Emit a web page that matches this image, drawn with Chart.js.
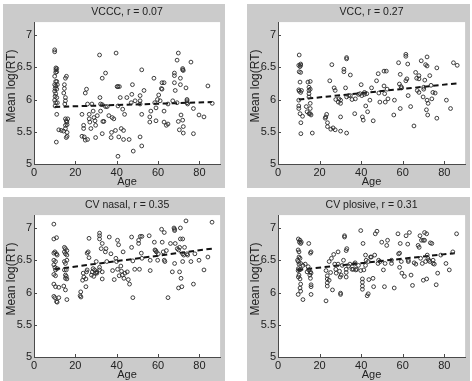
<!DOCTYPE html>
<html><head><meta charset="utf-8">
<script src="https://cdn.jsdelivr.net/npm/chart.js@4.4.1/dist/chart.umd.min.js"></script>
<style>
html,body{margin:0;padding:0;background:#fff;width:472px;height:381px;overflow:hidden;}
.panel{position:absolute;background:#cbcbcb;}
canvas{display:block;}
</style></head><body>
<div class="panel" style="left:3px;top:4px;width:222px;height:184px"><canvas id="c1" width="222" height="184"></canvas></div>
<div class="panel" style="left:247px;top:4px;width:223px;height:184px"><canvas id="c2" width="223" height="184"></canvas></div>
<div class="panel" style="left:3px;top:197px;width:222px;height:184px"><canvas id="c3" width="222" height="184"></canvas></div>
<div class="panel" style="left:247px;top:197px;width:223px;height:184px"><canvas id="c4" width="223" height="184"></canvas></div>
<script>
// ---- data ----
const xTicks = [0, 20, 40, 60, 80];
const yTicks = [5, 5.5, 6, 6.5, 7];
const titles = ["VCCC, r = 0.07", "VCC, r = 0.27", "CV nasal, r = 0.35", "CV plosive, r = 0.31"];
const xLabel = "Age";
const yLabel = "Mean log(RT)";

const vcccPoints = [[10,6.77],[10,6.74],[10.5,6.42],[10.6,6.49],[10.6,6.46],[10,6.36],[10.5,6.28],[10,6.23],[10.5,6.21],[10.2,6.17],[10,6.13],[10.5,6.09],[10.2,6.05],[10,5.99],[10.5,5.95],[10.2,5.90],[11,6.43],[11,6.48],[11,6.28],[11.3,6.23],[11,6.16],[11,6.03],[11.3,5.95],[11,5.77],[10.8,5.34],[12,5.53],[13.2,5.52],[14.3,5.51],[14.4,6.10],[14.7,6.17],[14.7,6.23],[15.2,6.33],[15.7,6.36],[15.2,6.03],[15.2,5.98],[14.9,5.93],[15.2,5.70],[15.6,5.67],[15.9,5.65],[15.2,5.60],[15.2,5.55],[16,5.49],[16,5.43],[15.6,5.41],[16.3,5.70],[16,5.61],[23.2,5.77],[23.2,5.43],[24,5.60],[24,5.55],[24.3,5.42],[24.8,6.10],[25.4,6.16],[24.8,5.37],[25.9,5.38],[25.9,5.93],[26.7,5.77],[26.7,5.70],[27,5.65],[27.5,5.55],[28,5.93],[28.6,5.82],[29,5.72],[29.5,5.67],[29.8,5.41],[29.8,5.60],[30.6,5.75],[31.7,6.69],[31.9,6.03],[32.2,5.93],[32.2,5.82],[33,6.33],[33,5.92],[33.3,5.66],[33,5.47],[33.8,5.66],[34.6,6.41],[35.4,5.89],[34.6,5.89],[36.2,5.75],[37.8,5.72],[37.5,5.49],[37.3,5.41],[38.6,5.70],[39.4,5.52],[39.7,6.72],[40.2,6.20],[40.6,6.20],[40.6,5.90],[40.6,5.12],[41,5.42],[41.3,6.20],[41.7,6.03],[42.2,5.55],[42.9,5.85],[43.3,5.52],[43.8,5.77],[43.3,5.38],[44.9,6.03],[46,5.38],[47,5.95],[47.3,6.08],[47.6,6.23],[48,5.20],[48.9,5.98],[51.3,6.06],[51.3,5.98],[51.3,5.93],[52.1,6.46],[52.1,5.77],[51.3,5.42],[52.1,5.28],[53.2,6.14],[56,5.73],[56,5.65],[56.5,5.82],[58,6.33],[58.4,5.95],[59,5.87],[59,5.67],[59.7,6.00],[60.3,6.07],[61,5.98],[61.6,6.17],[61.9,6.26],[62.9,6.26],[61.9,6.16],[62.9,5.82],[62.9,5.65],[64,5.60],[64.8,5.62],[64.8,5.93],[67.1,5.98],[67.9,6.41],[67.9,6.37],[67.9,6.26],[68.3,6.14],[69.2,6.61],[69.8,6.72],[69.2,5.95],[69.8,5.66],[70.3,5.53],[70.8,6.33],[70.8,6.23],[71.1,5.76],[71.9,6.46],[71.9,6.48],[72.2,6.45],[71.9,5.68],[72.2,5.58],[72.2,5.48],[73.5,6.18],[74,6.00],[74,5.98],[74,5.95],[74.3,5.93],[75.9,6.58],[77.1,5.86],[77.1,5.47],[79.8,5.76],[82.2,5.73],[84.1,6.21],[86.2,5.94]];
const vcccFitX = [10, 86];
const vcccFitY = [5.885, 5.96];

const vccPoints = [[10.2,6.69],[10,6.53],[10.9,6.53],[10.6,6.51],[10.9,6.55],[10.2,6.43],[10.9,6.42],[10.6,6.27],[10,6.15],[10.2,6.13],[10.9,6.11],[11.3,6.14],[10,5.99],[10,5.90],[10,5.86],[10.6,5.78],[11,5.64],[11,5.47],[11.8,5.74],[13.6,5.89],[14,5.81],[14.4,6.27],[14.9,6.19],[14.9,6.14],[14.9,6.09],[14.9,6.04],[15.5,6.28],[15.5,6.16],[15.5,5.94],[15.5,5.86],[15.5,5.78],[15.9,5.76],[14.9,5.78],[16.5,5.48],[22.7,5.71],[23,5.73],[23.4,5.77],[23.8,5.64],[23.8,5.58],[24.9,6.29],[25.4,5.54],[25.9,6.54],[26.5,5.56],[27,6.18],[27.5,6.14],[27.5,5.53],[27.8,6.00],[29,5.96],[29.3,6.01],[30.1,5.99],[30.1,5.94],[30.1,5.73],[30.1,5.51],[31.7,6.47],[31.7,6.43],[32.5,6.18],[33,6.65],[33,6.63],[33,6.04],[33,5.48],[34,6.06],[34.8,6.06],[34.8,6.38],[35.6,6.00],[36.9,5.78],[37.2,6.01],[38.7,6.08],[39.5,6.09],[40,6.23],[40.3,6.06],[40.6,5.73],[41,5.68],[41.6,6.11],[41.6,6.08],[42.2,5.90],[42.7,6.09],[43.1,5.81],[44.2,5.99],[45,6.18],[45.8,5.67],[47.4,6.29],[48.2,6.40],[48.5,6.10],[49,5.96],[51,6.44],[51,6.21],[51.3,6.09],[51.6,5.96],[52.1,6.44],[52.5,6.16],[52.9,6.01],[55.7,5.76],[56,5.99],[58,6.57],[58.4,6.24],[58.8,6.39],[58.8,5.86],[59.2,6.20],[59.5,6.18],[61.5,6.70],[61.5,6.67],[61.5,6.29],[62,6.32],[62.4,6.55],[62.6,6.06],[63.8,5.89],[65.4,5.59],[66.2,6.42],[66.7,6.33],[67,6.14],[67.8,6.11],[67.8,6.37],[67.8,6.32],[68.9,6.60],[69.8,6.04],[70.1,6.19],[70.1,6.16],[70.6,6.30],[71,6.54],[71.7,6.52],[71.4,5.84],[71.7,6.66],[71.7,5.99],[72.2,5.94],[72,5.76],[73,6.37],[73.6,6.22],[74,6.01],[74.5,6.11],[75.6,6.10],[76.4,6.49],[76.4,5.71],[81,5.99],[83,5.86],[84.4,6.57],[86.2,6.53]];
const vccFitX = [10, 86];
const vccFitY = [6.00, 6.25];

const nasalPoints = [[9.6,7.06],[9.6,6.83],[10.9,6.85],[9.6,6.61],[10.1,6.63],[10.9,6.60],[11.2,6.58],[9.6,6.50],[10.4,6.48],[9.6,6.43],[10.1,6.39],[10.4,6.35],[11.2,6.37],[9.6,6.28],[10.4,6.26],[9.6,6.13],[10.4,6.09],[9.6,5.94],[10.1,5.92],[10.9,5.86],[11.2,5.85],[12,5.92],[12,6.08],[14.7,6.70],[15.2,6.68],[14.7,6.63],[15.2,6.60],[14.7,6.48],[15.2,6.45],[14.7,6.35],[15.6,6.35],[15.2,6.27],[15.2,6.22],[14.4,6.10],[15.2,6.04],[15.9,6.65],[15.9,6.58],[15.9,6.50],[15.6,6.25],[15.9,6.21],[15.9,5.89],[22.3,5.95],[22.6,6.01],[22.7,5.93],[23.5,6.19],[23.8,6.30],[24.1,6.24],[25.1,6.09],[25.1,6.21],[25.4,6.32],[25.7,6.35],[25.7,6.61],[26.2,6.63],[26.6,6.84],[26.6,6.54],[27.8,6.27],[28.2,6.32],[28.6,6.37],[28.9,6.25],[29.3,6.35],[29.8,6.30],[30.1,6.48],[30.4,6.32],[30.4,6.30],[31.7,6.92],[31.7,6.88],[31.7,6.83],[31.7,6.39],[31.7,6.35],[32.5,6.68],[33,6.76],[33,6.32],[33,6.21],[34.5,6.63],[34.8,6.68],[35.2,6.48],[36.4,6.86],[37.2,6.60],[38,6.34],[38.8,6.20],[39.6,6.53],[39.9,6.48],[40.4,6.36],[40.4,6.81],[40.9,6.74],[41.2,6.26],[42,6.41],[42.3,6.33],[42.7,6.27],[43.1,6.63],[43.5,6.22],[44,6.30],[45.1,6.32],[45.6,6.20],[46.2,6.13],[47.2,6.86],[47.2,6.70],[47.8,6.49],[47.8,5.92],[48.7,6.36],[50.6,6.81],[50.6,6.76],[51,6.36],[51.4,6.87],[52.2,6.87],[51.9,6.61],[52.2,6.53],[55.7,6.88],[56.2,6.50],[56.2,6.34],[58.2,6.78],[58.5,6.66],[58.8,6.65],[59.2,6.63],[59.8,6.50],[60.1,6.60],[61.7,6.98],[62,6.78],[62.5,6.63],[63,6.93],[63,6.50],[63.3,6.48],[64,6.65],[64.8,5.92],[66,6.76],[66.9,6.32],[67.7,7.00],[68,6.98],[68,6.96],[68,6.45],[68.3,6.76],[69.3,6.68],[69.9,6.66],[70.4,6.70],[70.4,6.32],[69.9,6.07],[70.8,7.00],[70.8,6.83],[71.1,6.22],[71.5,6.09],[71.9,6.83],[71.9,6.60],[72.4,6.58],[71.9,6.48],[72.8,6.70],[73.5,7.11],[74,6.60],[74.3,6.58],[75.9,6.48],[77.1,6.13],[77.8,6.60],[79.8,6.50],[82.2,6.35],[84.1,6.55],[86.1,7.09]];
const nasalFitX = [10, 86];
const nasalFitY = [6.36, 6.68];

const plosivePoints = [[9.8,6.83],[10.6,6.81],[10.3,6.78],[11.2,6.78],[10.9,6.76],[9.7,6.66],[10.1,6.63],[10.1,6.55],[9.4,6.50],[9.8,6.48],[10.6,6.53],[10.1,6.44],[10.9,6.45],[9.8,6.37],[10.3,6.35],[9.7,6.34],[10.9,6.36],[10.1,6.27],[9.8,6.24],[10.6,6.21],[10.9,6.13],[10.6,6.07],[10.9,6.02],[9.7,5.97],[12,5.89],[12,6.42],[13.1,6.44],[14,6.32],[14.8,6.76],[14.5,6.40],[14.8,6.35],[15.6,6.32],[15.9,6.30],[15.3,6.27],[15.6,6.22],[15.6,6.61],[15.9,6.63],[15.9,6.12],[15.9,6.09],[15.9,5.97],[23.1,5.87],[23.1,6.34],[23.7,6.26],[23.7,6.21],[23.7,6.15],[23.7,6.10],[24.6,6.48],[24.6,6.19],[25.3,6.31],[25.7,6.53],[26.2,6.04],[26.8,6.59],[27.3,6.44],[27.8,6.36],[28,6.30],[28.9,6.63],[28.9,6.44],[29.6,6.33],[29.9,6.24],[30.4,6.27],[30.1,5.99],[30.1,5.97],[30.9,6.42],[31.5,6.50],[32,6.88],[32,6.86],[32.8,6.65],[33.1,6.68],[32.8,6.36],[32.8,6.31],[32.8,6.24],[34,6.41],[34.6,6.44],[35.6,6.36],[36.2,6.36],[36.7,6.44],[37.1,6.46],[37.4,6.35],[37.8,6.36],[38.7,6.42],[39.8,6.96],[39.8,6.34],[40.6,6.21],[40.6,6.16],[40.6,6.10],[40.6,6.05],[40.9,6.76],[41.3,6.35],[42.1,6.58],[42.4,6.50],[42.1,6.42],[42.9,5.95],[43.4,5.98],[43.7,6.20],[43.4,6.48],[44.5,6.55],[44.9,6.55],[45.7,6.22],[46,6.09],[46.5,6.58],[46.8,6.91],[47.6,6.95],[48.1,6.45],[48.4,6.50],[49.1,6.48],[49.9,6.78],[50.7,6.35],[51.2,6.09],[51.5,6.45],[52.3,6.73],[52.7,6.81],[54.6,6.50],[54.6,6.45],[55.9,6.07],[57.7,6.91],[58,6.60],[58.5,6.61],[58.5,6.39],[58.8,6.76],[59.3,6.48],[59.6,6.30],[60.8,6.25],[61.6,6.88],[62.4,6.75],[62.7,6.50],[62.7,6.48],[63.2,6.93],[64,6.27],[64.7,6.11],[65.5,6.46],[66.3,6.44],[67.4,6.73],[67.9,6.70],[68.3,6.88],[68.6,6.53],[69,6.81],[69.9,6.81],[70.5,6.81],[69.4,6.45],[69.9,6.19],[70.5,6.93],[71.5,6.91],[71,6.48],[71.5,6.21],[71.8,6.58],[72.1,6.53],[72.5,6.50],[73,6.48],[73.3,6.77],[74,6.76],[74.6,6.50],[74.6,6.45],[75.2,6.44],[76.1,6.12],[76.8,6.30],[78.3,6.58],[80.8,6.45],[82.4,6.35],[84.1,6.63],[85.9,6.91]];
const plosiveFitX = [9.5, 85];
const plosiveFitY = [6.35, 6.61];

// ---- drawing ----
const FONT = '"Liberation Sans", Arial, sans-serif';
const TEXT = '#222';
const AXIS = '#4a4a4a';

const decoPlugin = {
  id: 'deco',
  beforeDraw(chart) {
    const {ctx, chartArea: a} = chart;
    ctx.save();
    ctx.fillStyle = '#ffffff';
    ctx.fillRect(a.left, a.top, a.right - a.left, a.bottom - a.top);
    ctx.restore();
  },
  afterDraw(chart) {
    const {ctx, chartArea: a, scales} = chart;
    ctx.save();
    ctx.strokeStyle = AXIS;
    ctx.lineWidth = 1;
    ctx.beginPath();
    xTicks.forEach(v => {
      const px = Math.round(scales.x.getPixelForValue(v)) + 0.5;
      ctx.moveTo(px, a.bottom); ctx.lineTo(px, a.bottom - 3);
    });
    yTicks.forEach(v => {
      const py = Math.round(scales.y.getPixelForValue(v)) + 0.5;
      ctx.moveTo(a.left, py); ctx.lineTo(a.left + 3, py);
    });
    ctx.stroke();
    ctx.fillStyle = TEXT;
    ctx.textAlign = 'center';
    ctx.textBaseline = 'middle';
    ctx.font = '11px ' + FONT;
    ctx.fillText(xLabel, (a.left + a.right) / 2, a.bottom + 18);
    ctx.translate(9, (a.top + a.bottom) / 2 - 7);
    ctx.rotate(-Math.PI / 2);
    ctx.font = '12px ' + FONT;
    ctx.fillText(yLabel, 0, 0);
    ctx.restore();
  }
};

function makePanel(id, title, pts, fitX, fitY) {
  new Chart(document.getElementById(id), {
    type: 'scatter',
    data: {
      datasets: [
        {
          data: pts.map(p => ({x: p[0], y: p[1]})),
          pointRadius: 1.9,
          pointBorderWidth: 0.9,
          pointBorderColor: '#2a2a2a',
          pointBackgroundColor: 'rgba(0,0,0,0)',
          showLine: false
        },
        {
          data: fitX.map((x, i) => ({x: x, y: fitY[i]})),
          showLine: true,
          borderColor: '#111',
          borderWidth: 2,
          borderDash: [5.5, 3.5],
          pointRadius: 0,
          fill: false
        }
      ]
    },
    options: {
      responsive: false,
      devicePixelRatio: 1,
      animation: false,
      events: [],
      layout: {padding: {left: 0, right: 1, top: 0, bottom: 0}},
      plugins: {
        legend: {display: false},
        tooltip: {enabled: false},
        title: {
          display: true, text: title, fullSize: false, color: TEXT,
          font: {family: FONT, size: 10.5, weight: 'normal'},
          padding: {top: 1.5, bottom: 4}
        }
      },
      scales: {
        x: {
          type: 'linear', position: 'bottom', min: 0, max: 90,
          afterBuildTicks: s => { s.ticks = xTicks.map(v => ({value: v})); },
          afterFit: s => { s.height = 24; },
          ticks: {color: TEXT, font: {family: FONT, size: 11}, padding: 2, maxRotation: 0, autoSkip: false, callback: v => String(v)},
          grid: {display: false, drawTicks: false},
          border: {display: true, color: AXIS, width: 1}
        },
        y: {
          type: 'linear', position: 'left', min: 5, max: 7.2,
          afterBuildTicks: s => { s.ticks = yTicks.map(v => ({value: v})); },
          afterFit: s => { s.width = 31; },
          ticks: {color: TEXT, font: {family: FONT, size: 11}, padding: 2, autoSkip: false, callback: v => String(v)},
          grid: {display: false, drawTicks: false},
          border: {display: true, color: AXIS, width: 1}
        }
      }
    },
    plugins: [decoPlugin]
  });
}

makePanel('c1', titles[0], vcccPoints, vcccFitX, vcccFitY);
makePanel('c2', titles[1], vccPoints, vccFitX, vccFitY);
makePanel('c3', titles[2], nasalPoints, nasalFitX, nasalFitY);
makePanel('c4', titles[3], plosivePoints, plosiveFitX, plosiveFitY);
</script>
</body></html>
